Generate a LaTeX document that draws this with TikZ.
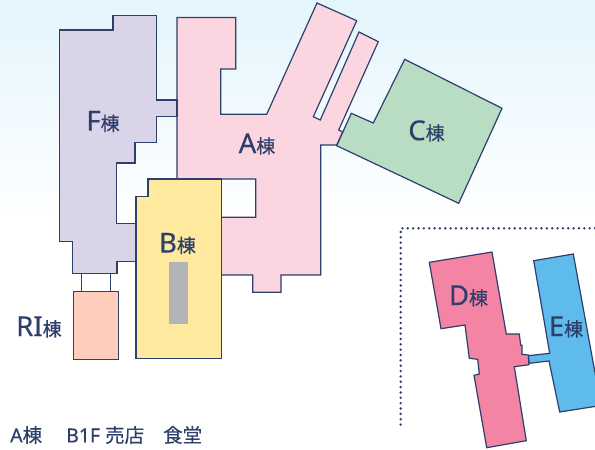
\documentclass[tikz,border=0pt]{standalone}
\usepackage{fontspec}
\setmainfont[FakeBold=0.35]{Noto Sans}
\newfontfamily\cjk[FakeBold=0.35]{Noto Sans CJK JP}
\definecolor{ink}{HTML}{2E3F6B}
\definecolor{skytop}{HTML}{E3F5FD}
\definecolor{fcol}{HTML}{DAD4E8}
\definecolor{acol}{HTML}{FBD6E0}
\definecolor{bcol}{HTML}{FEE99F}
\definecolor{ricol}{HTML}{FFCDBC}
\definecolor{ccol}{HTML}{B9DDC3}
\definecolor{dcol}{HTML}{F484A4}
\definecolor{ecol}{HTML}{5FBBEB}
\definecolor{shaft}{HTML}{B3B4B8}
\newcommand{\tou}{{\cjk\fontsize{19}{20}\selectfont 棟}}
\tikzset{
	wing/.style={draw=ink,line width=1.2pt,line join=miter},
	bldname/.style={text=ink,inner sep=0pt,font=\fontsize{27.5}{28}\selectfont},
	floorinfo/.style={text=ink,inner sep=0pt,anchor=west,font=\fontsize{19.5}{20}\selectfont}
}

\begin{document}
\begin{tikzpicture}[x=1pt,y=-1pt]
	\useasboundingbox (0,0) rectangle (595,450);
	\clip (0,0) rectangle (595,450);
	\fill[top color=skytop,bottom color=white] (0,0) rectangle (595,225);
	% A
	\draw[wing,fill=acol] (177,17.5) -- (235.7,17.5) -- (235.7,69) -- (220.7,69) -- (220.7,114.3) -- (266.7,114.3) -- (317,3) -- (356.7,20.7) -- (313.3,116.7) -- (320.3,120) -- (359,32) -- (378.3,41.7) -- (338.7,130) -- (342.7,132) -- (336.7,145) -- (320.7,145) -- (320.7,275) -- (281,275) -- (281,292.3) -- (252.7,292.3) -- (252.7,275) -- (221.3,275) -- (221.3,217.3) -- (255.7,217.3) -- (255.7,179) -- (177,179) -- cycle;
	% F
	\draw[wing,fill=fcol] (59.5,30) -- (113,30) -- (113,15.5) -- (156.5,15.5) -- (156.5,100) -- (177,100) -- (177,116.7) -- (156.5,116.7) -- (156.5,142.7) -- (135,142.7) -- (135,163) -- (116.7,163) -- (116.7,223.3) -- (136,223.3) -- (136,261.7) -- (117,261.7) -- (117,273.7) -- (72.7,273.7) -- (72.7,241.3) -- (59.5,241.3) -- cycle;
	\draw[wing] (81.3,273.7) rectangle (110.3,291.3);
	% RI
	\draw[wing,fill=ricol] (73.3,291.3) rectangle (118.3,359.3);
	% B
	\draw[wing,fill=bcol] (136,358.3) -- (221.3,358.3) -- (221.3,179) -- (148,179) -- (148,196.3) -- (136,196.3) -- cycle;
	\fill[shaft] (169,262) rectangle (188,323.7);
	% C
	\draw[wing,fill=ccol] (404.7,59.3) -- (502,108.3) -- (458.7,203.3) -- (336.7,145.7) -- (351.3,113.3) -- (373.3,123) -- cycle;
	% E
	\draw[wing,fill=ecol] (533.7,260.7) -- (573.3,254) -- (601,405.5) -- (559.7,412) -- (549,361) -- (529,363.3) -- (528.3,355.7) -- (549.7,353.3) -- cycle;
	% D
	\draw[wing,fill=dcol] (429.3,262.3) -- (492,252) -- (506.3,334) -- (519.3,334) -- (520.7,345.3) -- (522,345.3) -- (522,354.3) -- (528.3,355) -- (529,364.7) -- (514.3,366.7) -- (526.3,440.7) -- (486.7,447.7) -- (474,375.3) -- (479.3,374) -- (477.7,359.3) -- (469.3,358.3) -- (465,325) -- (441,328.7) -- cycle;
	% dotted frame
	\draw[ink,line width=2.7pt,line cap=round,dash pattern=on 0pt off 5.35pt] (595,228.3) -- (400.7,228.3) -- (400.7,428.5);
	\node[bldname] (nameF) at (103,121.5) {F\tou};
	\node[bldname] (nameA) at (257,144) {A\tou};
	\node[bldname] (nameB) at (177.5,243.5) {B\tou};
	\node[bldname] (nameRI) at (39,327) {RI\tou};
	\node[bldname] (nameC) at (426.5,131) {C\tou};
	\node[bldname] (nameD) at (468.5,296) {D\tou};
	\node[bldname] (nameE) at (566,327) {E\tou};
	\node[floorinfo] (floorinfo) at (10,435) {A{\cjk 棟}\hspace{24pt}B1F {\cjk 売店}\hspace{19pt}{\cjk 食堂}};
\end{tikzpicture}
\end{document}
